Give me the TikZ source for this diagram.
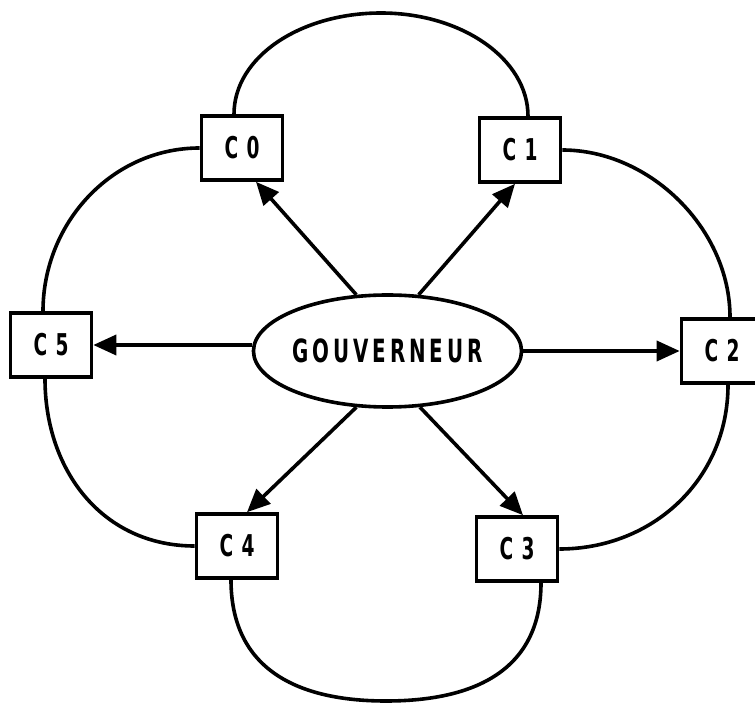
\documentclass[tikz,border=0pt]{standalone}
\usepackage{fontspec}
\usetikzlibrary{shapes.geometric,arrows.meta}
% narrow, widely tracked lettering for the labels
\newfontfamily\unitfont{DejaVu Sans}[FakeStretch=0.62,LetterSpace=28]
\newfontfamily\govfont{DejaVu Sans}[FakeStretch=0.62,LetterSpace=12]

\begin{document}
\begin{tikzpicture}[x=1pt,y=1pt,
  unit/.style={draw, line width=3.6pt, minimum width=81pt, minimum height=64pt,
    inner sep=0pt, font=\unitfont\bfseries\fontsize{30}{30}\selectfont},
  gov/.style={ellipse, draw, line width=3.6pt, minimum width=249pt, minimum height=112pt,
    inner sep=0pt, font=\govfont\bfseries\fontsize{32}{32}\selectfont},
  link/.style={line width=3.6pt},
  arr/.style={line width=3.6pt, -{Triangle[length=23pt,width=20pt]}}]
\useasboundingbox (0,0) rectangle (755,705);

% central governor and the six units around it
\node[gov]  (G)  at (387.5,354) {GOUVERNEUR};
\node[unit] (C0) at (242,557) {C0};
\node[unit] (C1) at (520,555) {C1};
\node[unit] (C2) at (722,354) {C2};
\node[unit] (C3) at (517,156) {C3};
\node[unit] (C4) at (237,159) {C4};
\node[unit] (C5) at (51,360)  {C5};

% ring linking neighbouring units
\coordinate (topmid) at (381,692);
\coordinate (botmid) at (386,4);
\draw[link] ([xshift=-8pt]C0.north) .. controls +(0,57) and +(-81,0) .. (topmid)
            .. controls +(81,0) and +(0,57) .. ([xshift=8pt]C1.north);
\draw[link] (C1.east) .. controls +(88,0) and +(0,88) .. ([xshift=8pt]C2.north);
\draw[link] ([xshift=6pt]C2.south) .. controls +(0,-94) and +(94,0) .. (C3.east);
\draw[link] ([xshift=-6pt]C4.south) .. controls +(0,-85) and +(-95,0) .. (botmid)
            .. controls +(95,0) and +(0,-83) .. ([xshift=24pt]C3.south);
\draw[link] ([xshift=-6pt]C5.south) .. controls +(0,-92) and +(-92,0) .. (C4.west);
\draw[link] (C0.west) .. controls +(-88,0) and +(0,88) .. ([xshift=-8pt]C5.north);

% governor to each unit
\draw[arr] (G.119) -- ([xshift=14pt]C0.south);
\draw[arr] (G.61) -- ([xshift=-5pt]C1.south);
\draw[arr] (G.east) -- (G.east -| C2.west);
\draw[arr] (G.300) -- ([xshift=6pt]C3.north);
\draw[arr] (G.241) -- ([xshift=10pt]C4.north);
\draw[arr] (G.west |- C5.east) -- (C5.east);
\end{tikzpicture}
\end{document}
